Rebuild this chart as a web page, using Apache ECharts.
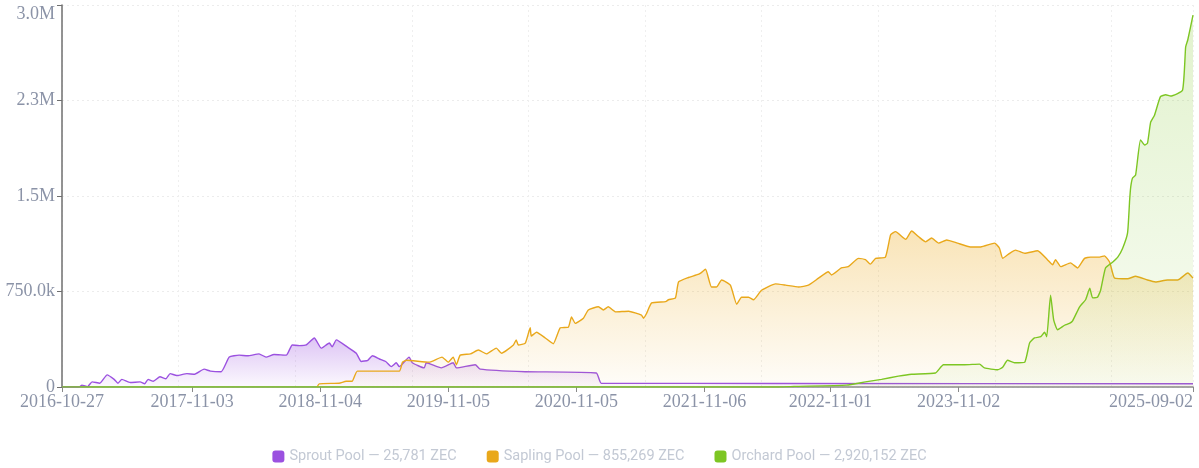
<!DOCTYPE html>
<html>
<head>
<meta charset="utf-8">
<script src="https://cdn.jsdelivr.net/npm/echarts@6/dist/echarts.min.js"></script>
<style>
html,body{margin:0;padding:0;background:#fff;}
#chart{width:1199px;height:468px;}
</style>
</head>
<body>
<div id="chart"></div>
<script>
// ---- DATA ----
const poolNames = ['Sprout Pool', 'Sapling Pool', 'Orchard Pool'];
const poolTotals = ['25,781', '855,269', '2,920,152'];
const xLabelDates = ['2016-10-27','2017-11-03','2018-11-04','2019-11-05','2020-11-05','2021-11-06','2022-11-01','2023-11-02','2025-09-02'];
const xMin = '2016-10-27';
const xMax = '2025-09-02';

const sproutData = [
["2016-10-27",0],["2016-12-15",0],["2016-12-23",15000],["2017-01-08",3000],["2017-01-21",40000],
["2017-02-12",30000],["2017-03-05",95000],["2017-03-25",60000],["2017-04-05",30000],["2017-04-16",60000],
["2017-05-10",35000],["2017-06-07",40000],["2017-06-20",25000],["2017-06-30",60000],["2017-07-15",45000],
["2017-08-03",80000],["2017-08-20",65000],["2017-09-01",105000],["2017-09-20",90000],["2017-10-19",105000],
["2017-11-10",100000],["2017-12-07",140000],["2017-12-25",125000],["2018-01-25",120000],["2018-02-17",235000],
["2018-03-17",250000],["2018-04-10",245000],["2018-05-13",260000],["2018-06-02",235000],["2018-06-25",255000],
["2018-07-30",250000],["2018-08-16",330000],["2018-09-05",325000],["2018-09-25",330000],["2018-10-18",385000],
["2018-11-07",305000],["2018-11-30",345000],["2018-12-08",315000],["2018-12-20",370000],["2019-01-20",315000],
["2019-02-15",265000],["2019-03-01",200000],["2019-03-20",210000],["2019-04-02",245000],["2019-04-22",220000],
["2019-05-10",200000],["2019-05-26",160000],["2019-06-09",190000],["2019-06-18",160000],["2019-07-16",235000],
["2019-07-25",190000],["2019-08-28",150000],["2019-09-03",190000],["2019-10-16",150000],["2019-11-19",190000],
["2019-11-28",150000],["2020-01-21",175000],["2020-02-04",140000],["2020-06-12",120000],["2021-01-01",110000],
["2021-01-15",30000],["2022-06-01",28000],["2025-09-02",25781]
];

const saplingData = [
["2018-10-26",0],["2018-11-01",25000],["2018-12-28",30000],["2019-01-17",45000],["2019-02-03",45000],
["2019-02-18",125000],["2019-06-18",125000],["2019-06-27",195000],["2019-07-08",210000],["2019-09-11",195000],
["2019-10-18",235000],["2019-11-05",195000],["2019-11-19",235000],["2019-11-28",175000],["2019-12-09",250000],
["2020-01-07",260000],["2020-01-30",290000],["2020-02-22",260000],["2020-03-21",305000],["2020-04-05",265000],
["2020-05-09",330000],["2020-05-17",370000],["2020-05-23",330000],["2020-06-12",345000],["2020-06-26",465000],
["2020-06-29",400000],["2020-07-14",430000],["2020-08-08",385000],["2020-08-31",340000],["2020-09-20",465000],
["2020-10-13",470000],["2020-10-22",550000],["2020-11-02",500000],["2020-11-25",540000],["2020-12-09",605000],
["2021-01-07",630000],["2021-01-21",605000],["2021-02-04",630000],["2021-02-25",590000],["2021-04-03",595000],
["2021-05-10",565000],["2021-05-16",540000],["2021-05-24",575000],["2021-06-08",660000],["2021-07-18",670000],
["2021-07-26",685000],["2021-08-15",700000],["2021-08-24",825000],["2021-09-21",860000],["2021-10-14",880000],
["2021-10-26",895000],["2021-11-09",925000],["2021-11-26",785000],["2021-12-10",785000],["2021-12-25",840000],
["2022-01-19",800000],["2022-02-06",650000],["2022-02-20",705000],["2022-03-12",705000],["2022-03-26",685000],
["2022-04-18",760000],["2022-05-28",810000],["2022-06-26",800000],["2022-08-02",785000],["2022-08-30",800000],
["2022-09-28",855000],["2022-10-26",905000],["2022-11-04",880000],["2022-12-02",935000],["2022-12-22",945000],
["2023-01-20",1010000],["2023-02-09",1000000],["2023-02-23",965000],["2023-03-10",1010000],["2023-04-07",1020000],
["2023-04-22",1195000],["2023-05-06",1220000],["2023-06-04",1160000],["2023-06-21",1225000],["2023-07-11",1180000],
["2023-07-31",1140000],["2023-08-17",1170000],["2023-09-06",1130000],["2023-09-29",1155000],["2023-10-30",1130000],
["2023-12-06",1100000],["2024-01-04",1100000],["2024-02-13",1130000],["2024-02-27",1090000],["2024-03-07",1010000],
["2024-03-27",1050000],["2024-04-13",1075000],["2024-05-09",1050000],["2024-06-15",1070000],["2024-07-13",1000000],
["2024-07-28",960000],["2024-08-05",1000000],["2024-08-20",945000],["2024-09-17",975000],["2024-10-07",935000],
["2024-10-27",1010000],["2024-11-13",1020000],["2024-12-09",1020000],["2024-12-23",1030000],["2025-01-07",980000],
["2025-01-21",855000],["2025-02-27",850000],["2025-03-22",870000],["2025-04-25",840000],["2025-05-18",825000],
["2025-06-21",840000],["2025-07-20",840000],["2025-08-18",895000],["2025-09-02",855269]
];

const orchardData = [
["2016-10-27",0],["2022-06-01",0],["2022-07-20",5000],["2022-12-17",15000],["2023-02-09",40000],
["2023-03-27",60000],["2023-05-14",85000],["2023-06-21",100000],["2023-08-28",110000],["2023-09-20",175000],
["2023-11-19",175000],["2024-01-01",180000],["2024-01-15",150000],["2024-02-22",135000],["2024-03-07",155000],
["2024-03-21",210000],["2024-04-10",190000],["2024-05-09",195000],["2024-05-23",345000],["2024-06-06",385000],
["2024-06-24",395000],["2024-07-05",430000],["2024-07-11",395000],["2024-07-22",720000],["2024-07-31",525000],
["2024-08-11",450000],["2024-08-31",485000],["2024-09-14",500000],["2024-09-23",520000],["2024-10-13",630000],
["2024-10-30",685000],["2024-11-11",775000],["2024-11-19",700000],["2024-12-03",705000],["2024-12-12",760000],
["2024-12-26",935000],["2025-01-15",980000],["2025-01-30",1020000],["2025-02-13",1090000],["2025-02-27",1210000],
["2025-03-05",1470000],["2025-03-08",1570000],["2025-03-13",1640000],["2025-03-22",1665000],["2025-04-05",1940000],
["2025-04-17",1900000],["2025-04-25",1915000],["2025-05-04",2080000],["2025-05-15",2135000],["2025-06-01",2280000],
["2025-06-16",2295000],["2025-06-30",2285000],["2025-08-03",2330000],["2025-08-12",2670000],["2025-08-18",2725000],
["2025-09-02",2920152]
];

// ---- CHART ----
function t(s){ const p = s.split('-').map(Number); return Date.UTC(p[0], p[1]-1, p[2]); }
function pad(n){ return (n<10?'0':'')+n; }
function fmtDate(v){ const d = new Date(v); return d.getUTCFullYear()+'-'+pad(d.getUTCMonth()+1)+'-'+pad(d.getUTCDate()); }
function conv(arr){ return arr.map(p => [t(p[0]), p[1]]); }

const colors = ['#9b51e0', '#e9a81b', '#7dc623'];
const fills = [
  ['rgba(155,81,224,0.48)', 'rgba(155,81,224,0.05)'],
  ['rgba(236,170,30,0.45)', 'rgba(236,170,30,0.04)'],
  ['rgba(125,198,35,0.32)', 'rgba(125,198,35,0.07)']
];
const datas = [sproutData, saplingData, orchardData];
const labelColor = '#8b93a7';
const serif = '"Liberation Serif", "DejaVu Serif", serif';

const chart = echarts.init(document.getElementById('chart'), null, {renderer:'canvas'});
const tickVals = xLabelDates.map(t);

chart.setOption({
  animation: false,
  backgroundColor: '#ffffff',
  grid: { left: 62, right: 6, top: 5, bottom: 81, containLabel: false },
  legend: {
    top: 444, left: 'center',
    icon: 'roundRect', itemWidth: 12, itemHeight: 12, itemGap: 30,
    textStyle: { color: '#c3c9d4', fontSize: 14.5, fontFamily: 'Roboto, "Noto Sans", sans-serif' },
    formatter: function(name){ const i = poolNames.indexOf(name); return name + ' — ' + poolTotals[i] + ' ZEC'; },
    data: poolNames
  },
  xAxis: [{
    type: 'value',
    min: t(xMin), max: t(xMax),
    axisLine: { show: true, lineStyle: { color: '#8a8a8a', width: 1.5 } },
    axisTick: { show: true, customValues: tickVals, length: 5, lineStyle: { color: '#8a8a8a' } },
    axisLabel: {
      customValues: tickVals,
      formatter: function(v){ return fmtDate(v); },
      color: labelColor, fontSize: 18, fontFamily: serif, margin: 6,
      alignMaxLabel: 'right'
    },
    splitLine: { show: false }
  }, {
    type: 'value', position: 'bottom', min: 0, max: 9.7, interval: 1,
    axisLine: { show: false }, axisTick: { show: false }, axisLabel: { show: false },
    splitLine: { show: true, lineStyle: { color: '#efefef', type: [2, 3], width: 1 } }
  }],
  yAxis: {
    type: 'value', min: 0, max: 3000000, interval: 750000,
    axisLine: { show: true, lineStyle: { color: '#6f6f6f', width: 1.5 } },
    axisTick: { show: true, length: 5, lineStyle: { color: '#6f6f6f' } },
    axisLabel: {
      color: labelColor, fontSize: 18, fontFamily: serif, margin: 7,
      verticalAlignMaxLabel: 'top',
      formatter: function(v){
        if (v >= 1e6) return (v/1e6).toFixed(1) + 'M';
        if (v >= 1e3) return (v/1e3).toFixed(1) + 'k';
        return String(v);
      }
    },
    splitLine: { show: true, lineStyle: { color: '#ececec', type: [2, 3], width: 1 } }
  },
  series: poolNames.map((name, i) => ({
    name: name,
    type: 'line',
    xAxisIndex: 0,
    data: conv(datas[i]),
    showSymbol: false,
    symbol: 'none',
    smooth: 0.15,
    lineStyle: { color: colors[i], width: 1.4 },
    itemStyle: { color: colors[i] },
    areaStyle: {
      color: new echarts.graphic.LinearGradient(0, 0, 0, 1, [
        { offset: 0, color: fills[i][0] },
        { offset: 1, color: fills[i][1] }
      ])
    },
    z: 2 + i
  }))
});
</script>
</body>
</html>
